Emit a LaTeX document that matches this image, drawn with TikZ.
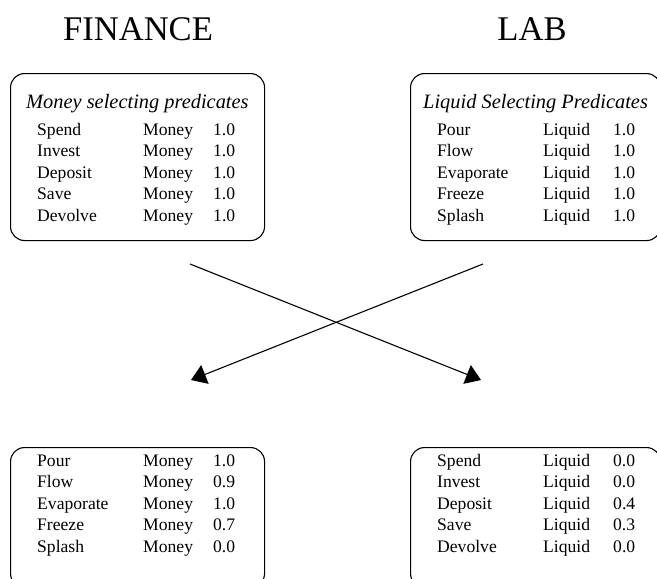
\documentclass[tikz,border=0pt]{standalone}
\usepackage{fontspec}
\setmainfont{Liberation Serif}
\usepackage{array}
\usetikzlibrary{arrows.meta}

\tikzset{
  predbox/.style={draw, line width=1.1pt, rounded corners=14pt, anchor=north west, inner sep=0pt},
  domainname/.style={anchor=base, inner sep=0pt, font=\fontsize{34.6}{40}\selectfont},
  predhead/.style={anchor=base west, inner sep=0pt, font=\fontsize{20.4}{24}\selectfont\itshape},
  predtable/.style={anchor=base west, inner sep=0pt, font=\fontsize{17.6}{21.5}\selectfont},
  crosslink/.style={line width=1.1pt, -{Triangle[length=15pt,width=20pt]}}
}
\newcommand{\predrows}[1]{\begin{tabular}[t]{@{}p{106pt}@{}p{70pt}@{}l@{}}#1\end{tabular}}

\begin{document}
\begin{tikzpicture}[x=1pt, y=-1pt]
\useasboundingbox (0,0) rectangle (657,579);
\clip (0,0) rectangle (657,579);

%domains
\node (finance) [domainname] at (138,40) {FINANCE};
\node (lab) [domainname] at (532,40) {LAB};

%boxes
\node (moneybox) [predbox, minimum width=254pt, minimum height=167pt] at (10,73) {};
\node (liquidbox) [predbox, minimum width=250pt, minimum height=167pt] at (410,73) {};
\node (moneytest) [predbox, minimum width=254pt, minimum height=140pt] at (10,447) {};
\node (liquidtest) [predbox, minimum width=250pt, minimum height=140pt] at (410,447) {};

%headings
\node (moneyhead) [predhead] at (26,108) {Money selecting predicates};
\node (liquidhead) [predhead] at (423,108) {Liquid Selecting Predicates};

%tables
\node (moneyrows) [predtable] at (37,135) {\predrows{
  Spend & Money & 1.0\\
  Invest & Money & 1.0\\
  Deposit & Money & 1.0\\
  Save & Money & 1.0\\
  Devolve & Money & 1.0}};
\node (liquidrows) [predtable] at (437,135) {\predrows{
  Pour & Liquid & 1.0\\
  Flow & Liquid & 1.0\\
  Evaporate & Liquid & 1.0\\
  Freeze & Liquid & 1.0\\
  Splash & Liquid & 1.0}};
\node (moneytestrows) [predtable] at (37,466) {\predrows{
  Pour & Money & 1.0\\
  Flow & Money & 0.9\\
  Evaporate & Money & 1.0\\
  Freeze & Money & 0.7\\
  Splash & Money & 0.0}};
\node (liquidtestrows) [predtable] at (437,466) {\predrows{
  Spend & Liquid & 0.0\\
  Invest & Liquid & 0.0\\
  Deposit & Liquid & 0.4\\
  Save & Liquid & 0.3\\
  Devolve & Liquid & 0.0}};

%ends of the crossing links
\coordinate (moneyout) at (190,264);
\coordinate (liquidout) at (483,264);
\coordinate (moneyin) at (191,380);
\coordinate (liquidin) at (481,380);

%links
\draw[crosslink] (moneyout) -- (liquidin);
\draw[crosslink] (liquidout) -- (moneyin);
\end{tikzpicture}
\end{document}
